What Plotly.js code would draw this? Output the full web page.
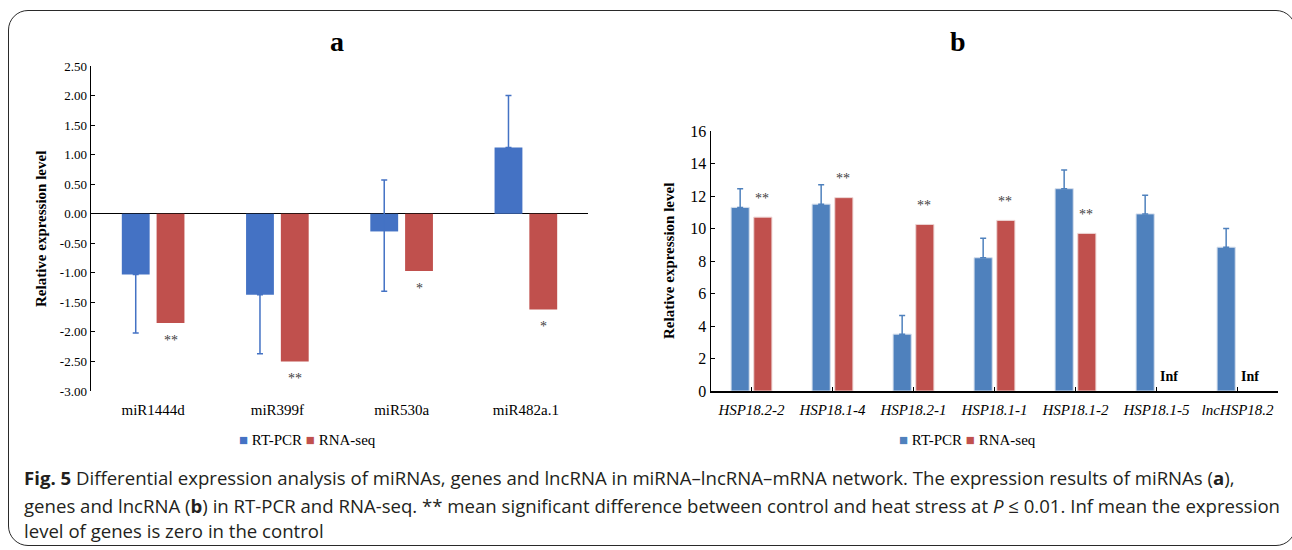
<!DOCTYPE html>
<html>
<head>
<meta charset="utf-8">
<script src="https://cdn.plot.ly/plotly-3.0.1.min.js"></script>
<style>
  html, body { margin: 0; padding: 0; background: #fff; }
  #wrap { position: relative; width: 1292px; height: 550px; overflow: hidden; }
  #chart { position: absolute; left: 0; top: 0; width: 1292px; height: 550px; }
  #frame { position: absolute; left: 8px; top: 10px; width: 1288px; height: 536px;
           border: 1.5px solid #2a2a2a; border-radius: 20px; pointer-events: none; box-sizing: border-box; }
</style>
</head>
<body>
<div id="wrap">
  <div id="chart"></div>
  <div id="frame"></div>
</div>
<script>
// ---- Panel a: miRNAs ----
const catsA = ['miR1444d', 'miR399f', 'miR530a', 'miR482a.1'];
const rtpcrA = [-1.03, -1.37, -0.30, 1.12];
const rtpcrAErrPlus = [0, 0, 0.87, 0.88];
const rtpcrAErrMinus = [0.99, 1.00, 1.01, 0];
const rnaseqA = [-1.85, -2.50, -0.97, -1.62];
const starsA = ['**', '**', '*', '*'];
const ticksA = [2.5, 2.0, 1.5, 1.0, 0.5, 0, -0.5, -1.0, -1.5, -2.0, -2.5, -3.0];

// ---- Panel b: genes and lncRNA ----
const catsB = ['HSP18.2-2', 'HSP18.1-4', 'HSP18.2-1', 'HSP18.1-1', 'HSP18.1-2', 'HSP18.1-5', 'lncHSP18.2'];
const rtpcrB = [11.3, 11.5, 3.5, 8.2, 12.45, 10.9, 8.85];
const rtpcrBErr = [1.15, 1.2, 1.15, 1.2, 1.15, 1.15, 1.15];
const rnaseqB = [10.7, 11.9, 10.25, 10.5, 9.7, null, null];
const starsB = ['**', '**', '**', '**', '**', '', ''];
const infB = ['', '', '', '', '', 'Inf', 'Inf'];
const ticksB = [0, 2, 4, 6, 8, 10, 12, 14, 16];
const seriesNames = ['RT-PCR', 'RNA-seq'];

const blueA = '#4472C4', redA = '#C0504D';
const blueB = '#4F81BD', redB = '#C0504D';
const serif = "'Liberation Serif', 'Times New Roman', serif";

const traces = [
  { type: 'bar', name: seriesNames[0], x: catsA, y: rtpcrA, xaxis: 'x', yaxis: 'y',
    marker: { color: blueA },
    error_y: { type: 'data', symmetric: false, array: rtpcrAErrPlus, arrayminus: rtpcrAErrMinus,
               color: blueA, thickness: 1.5, width: 3 } },
  { type: 'bar', name: seriesNames[1], x: catsA, y: rnaseqA, xaxis: 'x', yaxis: 'y',
    marker: { color: redA } },
  { type: 'bar', name: seriesNames[0], x: catsB, y: rtpcrB, xaxis: 'x2', yaxis: 'y2',
    marker: { color: blueB, line: { color: '#d5deec', width: 1 } },
    error_y: { type: 'data', symmetric: false, array: rtpcrBErr, arrayminus: rtpcrB.map(() => 0),
               color: blueB, thickness: 1.5, width: 3 } },
  { type: 'bar', name: seriesNames[1], x: catsB, y: rnaseqB, xaxis: 'x2', yaxis: 'y2',
    marker: { color: redB, line: { color: '#edd5d4', width: 1 } } }
];

const annotations = [];
// Panel titles
annotations.push({ text: '<b>a</b>', xref: 'paper', yref: 'paper', x: 337/1292, y: 1 - 41/550,
  xanchor: 'center', yanchor: 'middle', showarrow: false, font: { family: serif, size: 28, color: '#000' } });
annotations.push({ text: '<b>b</b>', xref: 'paper', yref: 'paper', x: 958/1292, y: 1 - 41/550,
  xanchor: 'center', yanchor: 'middle', showarrow: false, font: { family: serif, size: 28, color: '#000' } });
// Y axis titles
annotations.push({ text: '<b>Relative expression level</b>', xref: 'paper', yref: 'paper',
  x: 41/1292, y: 1 - 229/550, xanchor: 'center', yanchor: 'middle', textangle: -90, showarrow: false,
  font: { family: serif, size: 15, color: '#000' } });
annotations.push({ text: '<b>Relative expression level</b>', xref: 'paper', yref: 'paper',
  x: 669/1292, y: 1 - 261/550, xanchor: 'center', yanchor: 'middle', textangle: -90, showarrow: false,
  font: { family: serif, size: 15, color: '#000' } });
// Stars panel a (below red bars)
catsA.forEach((c, i) => {
  if (starsA[i]) annotations.push({ text: starsA[i], x: c, y: rnaseqA[i], xref: 'x', yref: 'y',
    xshift: 17.5, yshift: -17, yanchor: 'middle', showarrow: false,
    font: { family: serif, size: 14, color: '#404040' } });
});
// Stars / Inf panel b
catsB.forEach((c, i) => {
  if (starsB[i]) annotations.push({ text: starsB[i], x: c, y: rnaseqB[i], xref: 'x2', yref: 'y2',
    xshift: 10, yshift: 19, yanchor: 'middle', showarrow: false,
    font: { family: serif, size: 14, color: '#404040' } });
  if (infB[i]) annotations.push({ text: '<b>' + infB[i] + '</b>', x: c, y: 0, xref: 'x2', yref: 'y2',
    xshift: 12, yshift: 15, yanchor: 'middle', showarrow: false,
    font: { family: serif, size: 14, color: '#000' } });
});
// Legends (square glyph + label, coloured like the series)
function legendText(cb, cr) {
  return '<span style="color:' + cb + '">■</span> ' + seriesNames[0] +
         ' <span style="color:' + cr + '">■</span> ' + seriesNames[1];
}
annotations.push({ text: legendText(blueA, redA), xref: 'paper', yref: 'paper', x: 307/1292, y: 1 - 440/550,
  xanchor: 'center', yanchor: 'middle', showarrow: false, font: { family: serif, size: 15, color: '#000' } });
annotations.push({ text: legendText(blueB, redB), xref: 'paper', yref: 'paper', x: 967/1292, y: 1 - 440/550,
  xanchor: 'center', yanchor: 'middle', showarrow: false, font: { family: serif, size: 15, color: '#000' } });
// Caption
const capFont = { family: "'Open Sans', sans-serif", size: 18.6, color: '#231f20' };
const capLines = [
  '<b>Fig. 5</b> Differential expression analysis of miRNAs, genes and lncRNA in miRNA–lncRNA–mRNA network. The expression results of miRNAs (<b>a</b>),',
  'genes and lncRNA (<b>b</b>) in RT-PCR and RNA-seq. ** mean significant difference between control and heat stress at <i>P</i> ≤ 0.01. Inf mean the expression',
  'level of genes is zero in the control'
];
const capY = [477, 505, 530];
capLines.forEach((t, i) => annotations.push({ text: t, xref: 'paper', yref: 'paper', x: 22/1292, y: 1 - capY[i]/550,
  xanchor: 'left', yanchor: 'middle', showarrow: false, align: 'left', font: capFont }));

const layout = {
  width: 1292, height: 550,
  margin: { l: 0, r: 0, t: 0, b: 0 },
  paper_bgcolor: '#fff', plot_bgcolor: '#fff',
  font: { family: serif, color: '#000' },
  barmode: 'group', bargap: 0.44, bargroupgap: 0.2,
  showlegend: false,
  xaxis: { domain: [91/1292, 588/1292], anchor: 'y', showline: false, ticks: '', showgrid: false, zeroline: false,
    tickfont: { family: serif, size: 15, color: '#000' }, ticklabelstandoff: 8 },
  yaxis: { domain: [1 - 391/550, 1 - 66/550], anchor: 'x', range: [-3, 2.5], tickvals: ticksA,
    ticktext: ticksA.map(v => v.toFixed(2)), showline: true, linecolor: '#000', linewidth: 1.5,
    ticks: 'inside', ticklen: 4, tickcolor: '#000', showgrid: false,
    zeroline: true, zerolinecolor: '#000', zerolinewidth: 1.5,
    tickfont: { family: serif, size: 13, color: '#000' } },
  xaxis2: { domain: [711/1292, 1278/1292], anchor: 'y2', showline: true, linecolor: '#000', linewidth: 1.5,
    ticks: 'inside', ticklen: 4, tickcolor: '#000', showgrid: false, zeroline: false,
    tickfont: { family: serif, size: 15, color: '#000' },
    tickvals: catsB, ticktext: catsB.map(c => '<i>' + c + '</i>'), ticklabelstandoff: 4 },
  yaxis2: { domain: [1 - 391/550, 1 - 131/550], anchor: 'x2', range: [0, 16], tickvals: ticksB,
    showline: true, linecolor: '#000', linewidth: 1.5, ticks: 'inside', ticklen: 4, tickcolor: '#000',
    showgrid: false, zeroline: false, tickfont: { family: serif, size: 16, color: '#000' } },
  annotations: annotations
};

Plotly.newPlot('chart', traces, layout, { staticPlot: true });
</script>
</body>
</html>
